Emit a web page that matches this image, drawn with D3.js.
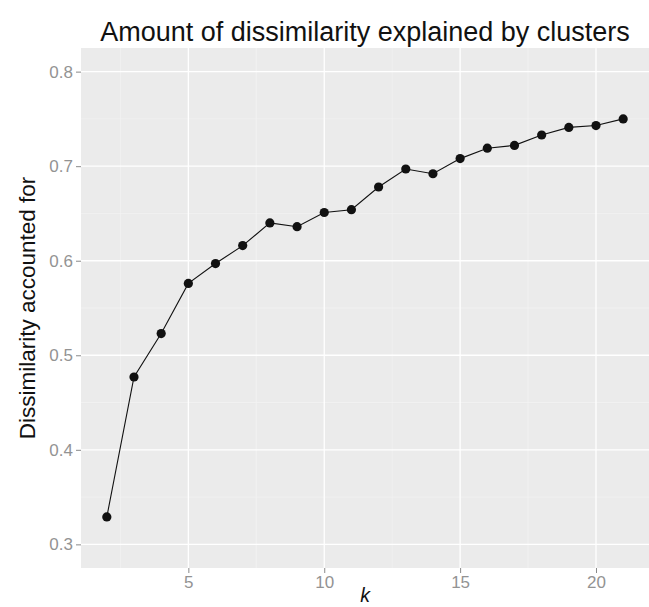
<!DOCTYPE html>
<html><head><meta charset="utf-8">
<script src="https://cdn.jsdelivr.net/npm/d3@7"></script>
<style>html,body{margin:0;padding:0;background:#fff;}svg{display:block;}</style>
</head><body><svg id="c" width="649" height="607"></svg>
<script>
const kValues = [2,3,4,5,6,7,8,9,10,11,12,13,14,15,16,17,18,19,20,21];
const dissimilarity = [0.329,0.477,0.523,0.576,0.597,0.616,0.640,0.636,0.651,0.654,0.678,0.697,0.692,0.708,0.719,0.722,0.733,0.741,0.743,0.750];
const xTicks = [5,10,15,20];
const xMinor = [2.5,7.5,12.5,17.5];
const yTicks = [0.3,0.4,0.5,0.6,0.7,0.8];
const yMinor = [0.35,0.45,0.55,0.65,0.75];
const titleText = "Amount of dissimilarity explained by clusters";
const xLabel = "k";
const yLabel = "Dissimilarity accounted for";

const W = 649, H = 607;
const panel = {left: 81, right: 649, top: 48, bottom: 568};
const svg = d3.select("#c");
const font = "'Liberation Sans', Arial, Helvetica, sans-serif";

const x = d3.scaleLinear().domain([1.05, 21.95]).range([panel.left, panel.right]);
const y = d3.scaleLinear().domain([0.275, 0.825]).range([panel.bottom, panel.top]);

svg.append("rect").attr("x", panel.left).attr("y", panel.top)
  .attr("width", panel.right - panel.left).attr("height", panel.bottom - panel.top)
  .attr("fill", "#EBEBEB");

const g = svg.append("g");
g.selectAll(".xminor").data(xMinor).enter().append("line")
  .attr("x1", d => x(d)).attr("x2", d => x(d)).attr("y1", panel.top).attr("y2", panel.bottom)
  .attr("stroke", "#F4F4F4").attr("stroke-width", 0.7);
g.selectAll(".yminor").data(yMinor).enter().append("line")
  .attr("y1", d => y(d)).attr("y2", d => y(d)).attr("x1", panel.left).attr("x2", panel.right)
  .attr("stroke", "#F4F4F4").attr("stroke-width", 0.7);
g.selectAll(".xmajor").data(xTicks).enter().append("line")
  .attr("x1", d => x(d)).attr("x2", d => x(d)).attr("y1", panel.top).attr("y2", panel.bottom)
  .attr("stroke", "#FFFFFF").attr("stroke-width", 1.3);
g.selectAll(".ymajor").data(yTicks).enter().append("line")
  .attr("y1", d => y(d)).attr("y2", d => y(d)).attr("x1", panel.left).attr("x2", panel.right)
  .attr("stroke", "#FFFFFF").attr("stroke-width", 1.3);

// axes
const xAxis = d3.axisBottom(x).tickValues(xTicks).tickSize(5).tickPadding(3).tickFormat(d3.format("d"));
const yAxis = d3.axisLeft(y).tickValues(yTicks).tickSize(5).tickPadding(3).tickFormat(d3.format(".1f"));
const gx = svg.append("g").attr("transform", `translate(0,${panel.bottom})`).call(xAxis);
const gy = svg.append("g").attr("transform", `translate(${panel.left},0)`).call(yAxis);
[gx, gy].forEach(a => {
  a.select(".domain").remove();
  a.selectAll(".tick line").attr("stroke", "#8A8A8A");
  a.selectAll(".tick text").attr("fill", "#939393").style("font-family", font).style("font-size", "17px");
});

// line and points
const line = d3.line().x((d, i) => x(kValues[i])).y(d => y(d));
svg.append("path").datum(dissimilarity).attr("d", line)
  .attr("fill", "none").attr("stroke", "#111").attr("stroke-width", 1.1);
svg.selectAll(".pt").data(dissimilarity).enter().append("circle")
  .attr("cx", (d, i) => x(kValues[i])).attr("cy", d => y(d)).attr("r", 4.6)
  .attr("fill", "#111");

// titles
svg.append("text").attr("x", (panel.left + panel.right) / 2).attr("y", 41)
  .attr("text-anchor", "middle").style("font-family", font).style("font-size", "27px")
  .attr("fill", "#111").text(titleText);
svg.append("text").attr("x", (panel.left + panel.right) / 2).attr("y", 602)
  .attr("text-anchor", "middle").style("font-family", font).style("font-size", "19.5px")
  .style("font-style", "italic").attr("fill", "#111").text(xLabel);
svg.append("text").attr("transform", `translate(35,${(panel.top + panel.bottom) / 2}) rotate(-90)`)
  .attr("text-anchor", "middle").style("font-family", font).style("font-size", "22.5px")
  .attr("fill", "#111").text(yLabel);
</script></body></html>
